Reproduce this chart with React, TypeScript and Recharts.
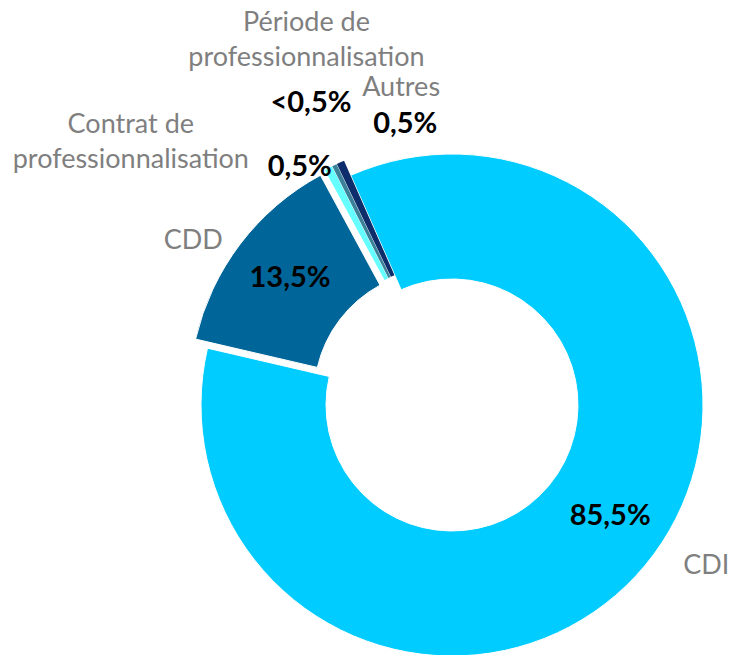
import { Cell, Pie, PieChart } from 'recharts';

const categories = ['CDI', 'CDD', 'Contrat de professionnalisation', 'Période de professionnalisation', 'Autres'];
const shares = [85.5, 13.5, 0.5, 0.3, 0.5];
const valueLabels = ['85,5%', '13,5%', '0,5%', '<0,5%', '0,5%'];
const nameLines = [['CDI'], ['CDD'], ['Contrat de', 'professionnalisation'], ['Période de', 'professionnalisation'], ['Autres']];

const data = categories.map((name, i) => ({ name, value: shares[i] }));

const COLORS = ['#00CCFF', '#006699', '#66FFFF', '#3B8199', '#0D2D6B'];
const CX = 452;
const CY = 405;
const START = 113.8;
const END = START - 360;
// how far each slice is pulled out (px)
const EXPLODE = [0, 15, 16, 16, 16];
const STROKES = [1, 1, 0, 0, 0];
// label nudges: names from the outer-radius point, values from the mid-radius point
const NAME_NUDGE = [[61, -2], [-59, -15], [-205, -43], [-35, -142], [54, -92]];
const VALUE_NUDGE = [[13, -12], [-12, -15], [-65, -73], [-58, -135], [32, -112]];

const RAD = Math.PI / 180;
const total = shares.reduce((a, b) => a + b, 0);
const midAngles = shares.map((v, i) => {
  const before = shares.slice(0, i).reduce((a, b) => a + b, 0);
  return START - ((before + v / 2) / total) * 360;
});

const polar = (cx: number, cy: number, r: number, angle: number) => ({
  x: cx + Math.cos(-angle * RAD) * r,
  y: cy + Math.sin(-angle * RAD) * r,
});

const renderLabel = (props: any) => {
  const { cx, cy, midAngle, innerRadius, outerRadius, index } = props;
  const outer = polar(cx, cy, outerRadius, midAngle);
  const mid = polar(cx, cy, (innerRadius + outerRadius) / 2, midAngle);
  const lines = nameLines[index];
  const nx = outer.x + NAME_NUDGE[index][0];
  const ny = outer.y + NAME_NUDGE[index][1];
  const lh = 35;
  return (
    <g key={`lbl-${index}`}>
      <text
        x={nx}
        y={ny - ((lines.length - 1) * lh) / 2}
        textAnchor="middle"
        dominantBaseline="central"
        fill="#7F7F7F"
        fontFamily="Lato, sans-serif"
        fontSize={27}
      >
        {lines.map((l, k) => (
          <tspan key={k} x={nx} dy={k === 0 ? 0 : lh}>
            {l}
          </tspan>
        ))}
      </text>
      <text
        x={mid.x + VALUE_NUDGE[index][0]}
        y={mid.y + VALUE_NUDGE[index][1]}
        textAnchor="middle"
        dominantBaseline="central"
        fill="#000"
        fontFamily="Lato, sans-serif"
        fontWeight="bold"
        fontSize={29}
      >
        {valueLabels[index]}
      </text>
    </g>
  );
};

export default function App() {
  return (
    <div style={{ position: 'absolute', left: 0, top: 0, background: '#fff' }}>
      <PieChart width={730} height={655} margin={{ top: 0, right: 0, bottom: 0, left: 0 }}>
        {data.map((_, s) => {
          const d = EXPLODE[s];
          const dx = Math.cos(midAngles[s] * RAD) * d;
          const dy = -Math.sin(midAngles[s] * RAD) * d;
          return (
            <Pie
              key={s}
              data={data}
              dataKey="value"
              nameKey="name"
              cx={CX + dx}
              cy={CY + dy}
              innerRadius={126}
              outerRadius={251}
              startAngle={START}
              endAngle={END}
              isAnimationActive={false}
              labelLine={false}
            >
              {data.map((__, i) => (
                <Cell
                  key={i}
                  fill={i === s ? COLORS[i] : 'none'}
                  stroke={i === s && STROKES[i] > 0 ? '#fff' : 'none'}
                  strokeWidth={STROKES[i]}
                />
              ))}
            </Pie>
          );
        })}
        <Pie
          data={data}
          dataKey="value"
          nameKey="name"
          cx={CX}
          cy={CY}
          innerRadius={126}
          outerRadius={251}
          startAngle={START}
          endAngle={END}
          isAnimationActive={false}
          labelLine={false}
          label={renderLabel}
          fill="none"
          stroke="none"
        >
          {data.map((_, i) => (
            <Cell key={i} fill="none" stroke="none" />
          ))}
        </Pie>
      </PieChart>
    </div>
  );
}
